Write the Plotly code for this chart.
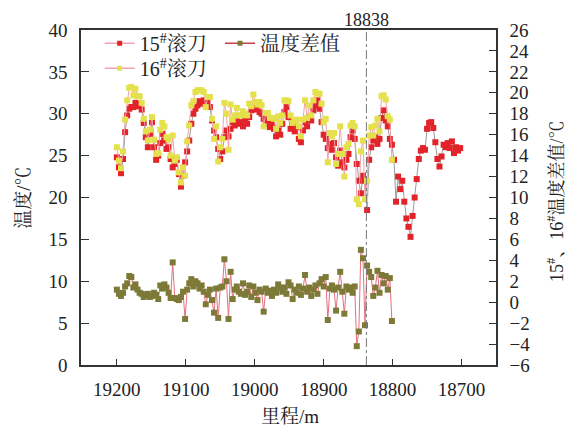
import plotly.graph_objects as go

# mileage (m), 3 m spacing
mileage_15 = list(range(19200, 18700, -3))          # 19200 ... 18702
mileage_16 = list(range(19200, 18800, -3))          # 19200 ... 18801

temp_15 = [
    24.8, 23.6, 22.9, 24.6, 27.8, 29.8, 30.6, 30.8, 30.8, 31.3,
    30.9, 31.2, 30.5, 28.9, 27.2, 26.0, 27.6, 29.0, 26.0, 24.5,
    25.0, 26.5, 27.6, 26.8, 25.8, 26.0, 24.6, 23.6, 24.0, 24.5,
    22.8, 21.3, 22.6, 24.2, 25.5, 26.8, 28.8, 30.0, 30.6, 31.0,
    31.5, 31.2, 31.6, 31.0, 31.3, 30.8, 29.2, 28.0, 27.2, 25.8,
    24.6, 25.5, 27.2, 28.0, 27.3, 28.2, 29.0, 28.6, 29.2, 28.8,
    29.0, 28.5, 29.3, 28.8, 29.6, 30.4, 30.8, 30.5, 30.9, 30.2,
    30.0, 29.4, 28.8, 29.2, 28.4, 28.9, 28.2, 27.3, 28.0, 27.5,
    28.8, 30.2, 30.8, 29.6, 28.2, 28.6, 27.9, 28.4, 27.0, 26.6,
    28.0, 29.0, 28.5, 29.6, 29.2, 30.4, 31.0, 31.6, 30.6, 29.0,
    27.5, 27.0, 25.9, 26.4, 25.7, 26.5, 24.8, 23.8, 25.6, 24.2,
    23.6, 24.5, 25.2, 27.2, 28.0, 27.0, 24.0, 22.0, 20.5, 22.6,
    22.0, 18.5, 24.5, 26.0, 26.8, 27.2, 26.4, 27.0, 29.5, 30.4,
    29.2, 28.5, 27.0, 26.3, 24.5, 19.5, 22.5, 21.0, 22.0, 19.5,
    17.5, 16.5, 15.3, 17.8, 20.0, 22.2, 24.6, 25.6, 25.9, 25.7,
    28.2, 28.9, 29.0, 28.3, 26.6, 24.6, 23.7, 24.9, 26.3, 26.0,
    26.5, 25.9, 26.7, 25.3, 26.0, 25.6, 25.9,
]

temp_16 = [
    26.0, 24.4, 23.5, 25.5, 29.3, 31.6, 33.1, 33.2, 32.2, 33.0,
    32.1, 32.1, 31.3, 29.4, 27.9, 26.8, 28.1, 29.6, 26.9, 25.2,
    25.3, 28.1, 28.9, 28.5, 27.2, 26.9, 25.0, 27.4, 24.4, 24.8,
    23.0, 21.8, 23.6, 22.6, 26.7, 28.6, 31.0, 31.5, 32.6, 32.8,
    32.8, 32.8, 32.6, 30.8, 32.0, 32.0, 29.4, 27.0, 28.5, 24.3,
    26.0, 27.0, 31.3, 30.0, 25.7, 31.1, 29.3, 29.8, 30.7, 29.8,
    29.8, 30.3, 30.0, 29.8, 31.2, 30.9, 32.3, 31.4, 31.1, 31.4,
    31.0, 28.5, 30.1, 30.1, 29.5, 29.5, 29.4, 28.2, 29.7, 28.9,
    29.8, 31.6, 31.6, 31.5, 29.8, 28.9, 29.1, 29.3, 28.5, 27.3,
    29.3, 31.6, 29.5, 31.0, 29.8, 31.6, 32.6, 32.4, 32.4, 31.2,
    29.0, 29.4, 24.2, 27.7, 27.3, 27.7, 24.0, 25.2, 28.5, 25.2,
    22.5, 26.0, 26.4, 28.6, 28.9, 28.5, 19.8, 19.2, 25.5, 26.8,
    19.8, 22.0, 27.4, 28.4, 27.4, 28.6, 29.4, 27.9, 32.1, 32.2,
    31.7, 29.7, 29.3, 24.5,
]

temp_diff = [
    1.2, 0.8, 0.6, 0.9, 1.5, 1.8, 2.5, 2.4, 1.4, 1.7,
    1.2, 0.9, 0.8, 0.5, 0.7, 0.8, 0.5, 0.6, 0.9, 0.7,
    0.3, 1.6, 1.3, 1.7, 1.4, 0.9, 0.4, 3.8, 0.4, 0.3,
    0.2, 0.5, 1.0, -1.6, 1.2, 1.8, 2.2, 1.5, 2.0, 1.8,
    1.3, 1.6, 1.0, -0.2, 0.7, 1.2, 0.2, -1.0, 1.3, -1.5,
    1.4, 1.5, 4.1, 2.0, -1.6, 2.9, 0.3, 1.2, 1.5, 1.0,
    0.8, 1.8, 0.7, 1.0, 1.6, 0.5, 1.5, 0.9, 0.2, 1.2,
    1.0, -0.9, 1.3, 0.9, 1.1, 0.6, 1.2, 0.9, 1.7, 1.4,
    1.0, 1.4, 0.8, 1.9, 1.6, 0.3, 1.2, 0.9, 1.5, 0.7,
    1.3, 2.6, 1.0, 1.4, 0.6, 1.2, 1.6, 0.8, 1.8, 2.2,
    1.5, 2.4, -1.7, 1.3, 1.6, 1.2, -0.8, 1.4, 2.9, 1.0,
    -1.1, 1.5, 1.2, 1.4, 0.9, 1.5, -4.2, -2.8, 5.0, 4.2,
    -2.2, 3.5, 2.9, 2.4, 0.6, 1.4, 3.0, 0.9, 2.6, 1.8,
    2.5, 1.2, 2.3, -1.8,
]

x_ticks = [19200, 19100, 19000, 18900, 18800, 18700]
marker_mileage = 18838

name_15 = "15<sup>#</sup>滚刀"
name_16 = "16<sup>#</sup>滚刀"
name_diff = "温度差值"
x_title = "里程/m"
y_title = "温度/℃"
y2_title = "15<sup>#</sup>、16<sup>#</sup>温度差值/℃"

FONT = "Liberation Serif, Times New Roman, Noto Serif CJK SC, Noto Sans CJK SC, serif"
RED = "#e3232a"
YEL = "#e4e14c"
OLIVE = "#7c7a36"
PINK = "#f2a2ac"
DPINK = "#e5707f"
GRAY = "#9a9a9a"

fig = go.Figure()

fig.add_trace(go.Scatter(x=mileage_15, y=temp_15, mode="lines+markers",
                         line=dict(color=GRAY, width=1),
                         marker=dict(symbol="square", size=6, color=RED),
                         showlegend=False))
fig.add_trace(go.Scatter(x=mileage_16, y=temp_16, mode="lines+markers",
                         line=dict(color=PINK, width=1),
                         marker=dict(symbol="square", size=6, color=YEL),
                         showlegend=False))
fig.add_trace(go.Scatter(x=mileage_16, y=temp_diff, mode="lines+markers", yaxis="y2",
                         line=dict(color=DPINK, width=1),
                         marker=dict(symbol="square", size=6, color=OLIVE),
                         showlegend=False))

# legend entries
fig.add_trace(go.Scatter(x=[None], y=[None], mode="lines+markers", name=name_15,
                         line=dict(color=PINK, width=1.5),
                         marker=dict(symbol="square", size=5, color=RED), legend="legend"))
fig.add_trace(go.Scatter(x=[None], y=[None], mode="lines+markers", name=name_16,
                         line=dict(color=PINK, width=1.5),
                         marker=dict(symbol="square", size=5, color=YEL), legend="legend3"))
fig.add_trace(go.Scatter(x=[None], y=[None], mode="lines+markers", name=name_diff,
                         line=dict(color="#c8404c", width=1.5),
                         marker=dict(symbol="square", size=5, color=OLIVE), legend="legend2"))

fig.add_shape(type="line", xref="x", yref="paper", x0=marker_mileage, x1=marker_mileage,
              y0=0, y1=1, line=dict(color="#777777", width=1, dash="dashdot"))
fig.add_annotation(x=marker_mileage, xref="x", y=1, yref="paper", yanchor="bottom",
                   text=str(marker_mileage), showarrow=False,
                   font=dict(size=18, color="#222"), yshift=-2)

# axis titles as annotations for exact placement
fig.add_annotation(x=-0.139, xref="paper", y=0.5, yref="paper", text=y_title,
                   textangle=-90, showarrow=False, font=dict(size=19, color="#222"),
                   xanchor="center", yanchor="middle")
fig.add_annotation(x=1.145, xref="paper", y=0.49, yref="paper", text=y2_title,
                   textangle=-90, showarrow=False, font=dict(size=18, color="#222"),
                   xanchor="center", yanchor="middle")
fig.add_annotation(x=0.504, xref="paper", y=-0.155, yref="paper", text=x_title,
                   showarrow=False, font=dict(size=19, color="#222"),
                   xanchor="center", yanchor="middle")

axis_line = dict(showline=True, linecolor="#333333", linewidth=1.5, showgrid=False,
                 zeroline=False, ticks="inside", tickcolor="#333333",
                 tickfont=dict(size=19, color="#222", family=FONT))

leg_common = dict(xanchor="left", yanchor="top", bgcolor="rgba(0,0,0,0)",
                  font=dict(size=20), itemwidth=30)

fig.update_layout(
    width=568, height=429,
    margin=dict(l=81, r=72, t=30, b=64),
    paper_bgcolor="white", plot_bgcolor="white",
    font=dict(family=FONT, color="#222"),
    xaxis=dict(range=[19252, 18650], tickvals=x_ticks, tickformat="d", ticklen=6, mirror=True,
               ticklabelstandoff=6, **axis_line),
    yaxis=dict(range=[0, 40], dtick=5, ticklen=8, ticklabelstandoff=8, **axis_line),
    yaxis2=dict(range=[-6, 26], dtick=2, ticklen=7, overlaying="y", side="right",
                ticklabelstandoff=8, **axis_line),
    legend=dict(x=0.045, y=1.019, **leg_common),
    legend3=dict(x=0.045, y=0.944, **leg_common),
    legend2=dict(x=0.335, y=1.019, **leg_common),
)

fig.write_html("out.html")
